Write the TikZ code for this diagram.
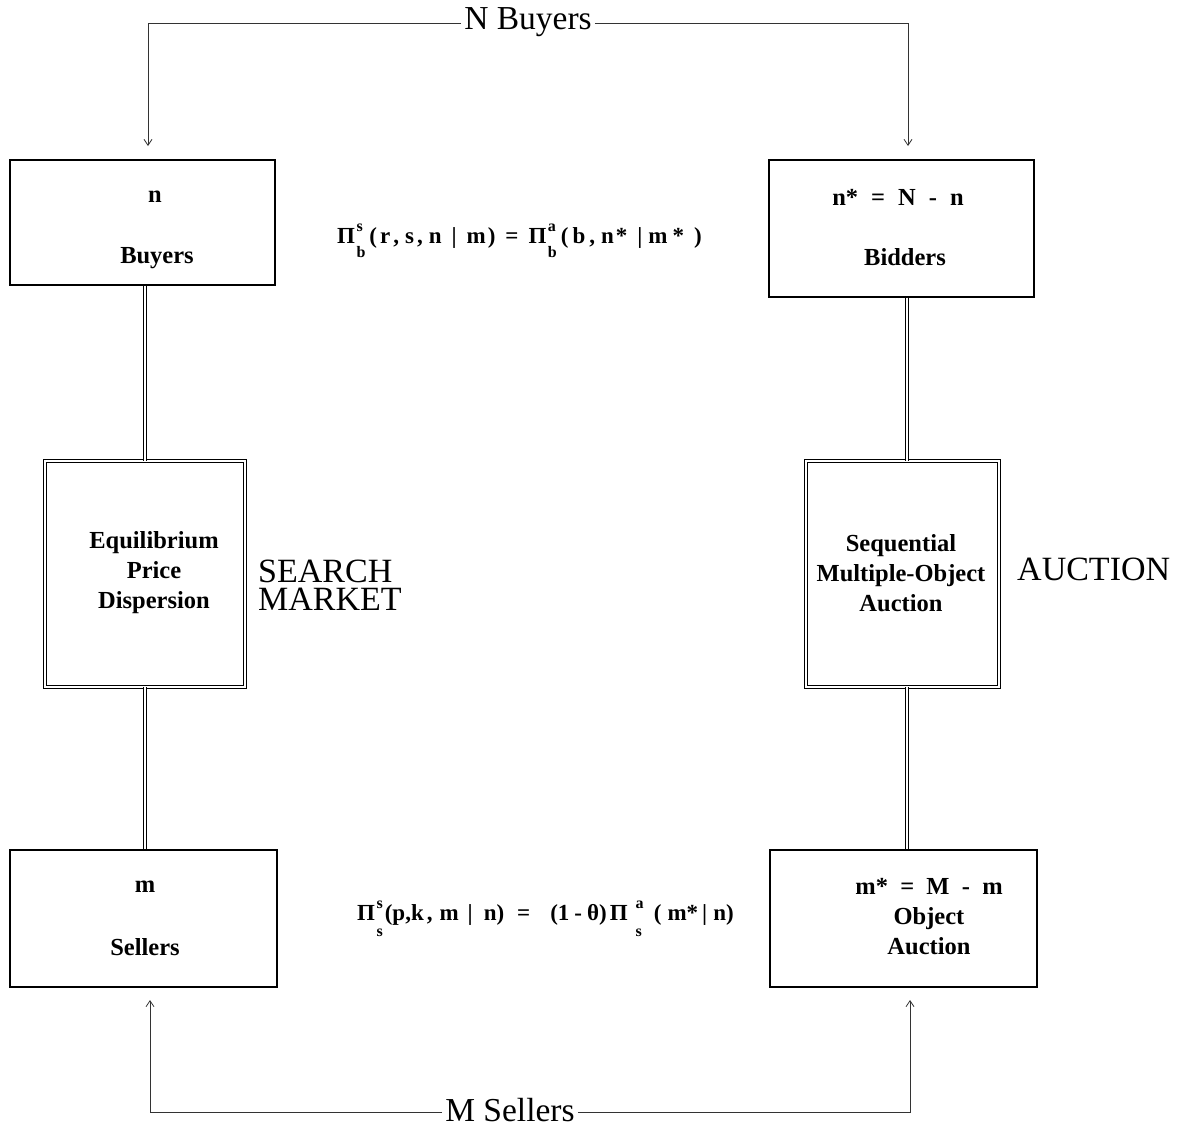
\documentclass[tikz,border=0pt]{standalone}
\usepackage{fontspec}
\setmainfont{Liberation Serif}
\usetikzlibrary{arrows.meta}
\newcommand{\g}[1]{\hspace*{#1pt}}
% Pi with superscript #1 raised by #3 and subscript #2 lowered by #4
\newcommand{\PiSub}[4]{Π\kern1.5pt\rlap{\raisebox{#3pt}{\fontsize{16}{16}\selectfont #1}}\raisebox{-#4pt}{\fontsize{16}{16}\selectfont #2}}
\begin{document}
\begin{tikzpicture}[x=1pt,y=-1pt,
  box/.style={draw,line width=1.3pt,minimum width=#1,inner sep=0pt},
  dblbox/.style={draw,double,double distance=2.5pt,line width=0.9pt,inner sep=0pt},
  txt/.style={font=\fontsize{24.5}{30}\selectfont\bfseries,align=center,inner sep=0pt},
  big/.style={font=\fontsize{34}{28.5}\selectfont,align=left,inner sep=0pt},
  formula/.style={font=\fontsize{23}{28}\selectfont\bfseries,inner sep=0pt},
  thin/.style={line width=0.8pt,draw=black!80},
  arr/.style={thin,-{Straight Barb[length=6pt,width=8pt]}},
  dbl/.style={double,double distance=2.5pt,line width=0.9pt}
]
\useasboundingbox (0,0) rectangle (1186,1128);

% boxes
\node[box=265pt,minimum height=125pt] (bu) at (142.5,222.5) {};
\node[box=265pt,minimum height=137pt] (bi) at (901.5,228.5) {};
\node[dblbox,minimum width=200pt,minimum height=226pt] (eq) at (145,574) {};
\node[dblbox,minimum width=193pt,minimum height=226pt] (sq) at (902.5,574) {};
\node[box=267pt,minimum height=137pt] (se) at (143.5,918.5) {};
\node[box=267pt,minimum height=137pt] (ob) at (903.5,918.5) {};

% box texts
\node[txt] (bun) at (155,197) {n};
\node[txt] (bul) at (157,258) {Buyers};
\node[txt] (bin) at (898,197) {n*\g{13}=\g{13}N\g{13}-\g{13}n};
\node[txt] (bil) at (905,257) {Bidders};
\node[txt] (eqt) at (154,573) {Equilibrium\\Price\\Dispersion};
\node[txt] (sqt) at (901,573) {Sequential\\Multiple-Object\\Auction};
\node[txt] (sem) at (145,887) {m};
\node[txt] (sel) at (145,947) {Sellers};
\node[txt] (obt) at (929,917) {m*\enspace=\enspace M\enspace -\enspace m\\Object\\Auction};

% side labels
\node[big,anchor=west] (sm) at (258,585) {SEARCH\\MARKET};
\node[big,anchor=west] (au) at (1017,569) {AUCTION};

% formulas
\node[formula,anchor=base west] (f1) at (337,243)
  {\PiSub{s}{b}{12}{14}\g{4}(\g{3}r\g{3},\g{6}s\g{3},\g{6}n\g{10}|\g{10}m\g{2})\g{10}=\g{10}\PiSub{a}{b}{12}{14}\g{4}(\g{4}b\g{4},\g{6}n\g{2}*\g{10}|\g{6}m\g{5}*\g{10})};
\node[formula,anchor=base west] (f2) at (357,920)
  {\PiSub{s}{s}{12}{16}\g{2}(p,k\g{3},\g{7}m\g{9}|\g{11}n)\g{13}=\g{20}(1\g{5}-\g{5}θ)\g{3}Π\g{8}\rlap{\raisebox{12pt}{\fontsize{16}{16}\selectfont a}}\raisebox{-16pt}{\fontsize{16}{16}\selectfont s}\g{12}(\g{6}m*\g{4}|\g{6}n)};

% top and bottom labels
\node[font=\fontsize{33.5}{33}\selectfont,inner sep=3pt] (nb) at (528,22) {N Buyers};
\node[font=\fontsize{33.5}{33}\selectfont,inner sep=3pt] (ms) at (510,1110) {M Sellers};

\coordinate (tl) at (148,23);
\coordinate (tr) at (908,23);
\coordinate (al) at (148,146);
\coordinate (ar) at (908,146);
\coordinate (bl) at (150,1112);
\coordinate (br) at (910,1112);
\coordinate (cl) at (150,1000);
\coordinate (cr) at (910,1000);

\draw[arr] (nb.west |- tl) -- (tl) -- (al);
\draw[arr] (nb.east |- tr) -- (tr) -- (ar);
\draw[arr] (ms.west |- bl) -- (bl) -- (cl);
\draw[arr] (ms.east |- br) -- (br) -- (cr);

% double connectors
\draw[dbl] (eq.north |- bu.south) -- (eq.north);
\draw[dbl] (eq.south) -- (eq.south |- se.north);
\draw[dbl] ([xshift=4.5pt]sq.north |- bi.south) -- ([xshift=4.5pt]sq.north);
\draw[dbl] ([xshift=4.5pt]sq.south) -- ([xshift=4.5pt]sq.south |- ob.north);
\end{tikzpicture}
\end{document}
